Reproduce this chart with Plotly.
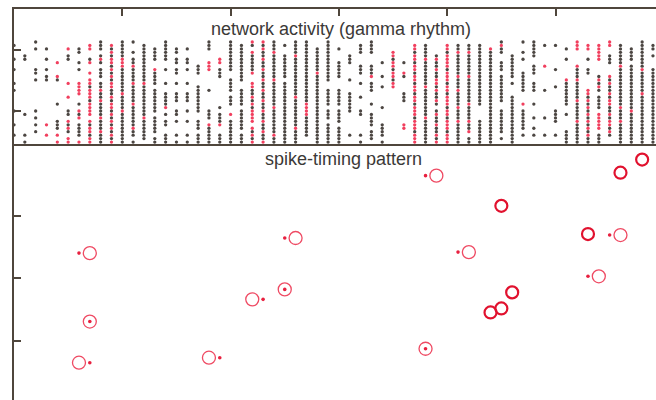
import plotly.graph_objects as go

# ---- raster of the network (one string per gamma cycle, rows top -> bottom) ----
# 'k' = spike of an ordinary neuron, 'r' = spike of a pattern neuron, '.' = silent
raster_cols = [
    ".k... k..k. ..k.k ..... k...k ..k..",
    "....k k.... ..... ..... .k... ..k.k",
    "k.k.. ...kk .k... ..... k.k.k .k...",
    "..k.. k..k. kk... ..... ....r ..r..",
    "..... .r... rk... ...k. ...kk k.r.r",
    "..r.k k.... ..r.. .r... kk.rk rk.rr",
    "..kk. .k.k. ..rrr r..k. rkr.k kkk.r",
    ".rr.. kr..r .rrkr rrkrr rr.rk rrkrr",
    "kkk.k rk.kk k.kkr kkrkk kkrkk krkkk",
    ".rkrk rrkrk rkrrk krkrr krkrk rkrkr",
    "kkkkk rrrkk kkkkk rkkkk rkkkk kkkkk",
    "k..k. kkrkk kkrkk kkkrk kkkkk rkk.k",
    ".kkkk kkkkk kkrkk kkkkk kkrkk kkkk.",
    "..kkk k..rk kkk.k kkkkk k.kkk kk.kk",
    "kkkkk k..k. ..k.. kkkkr .k.kk ..kkk",
    "..kk. kk.kk ..k.. kkk.. kk.k. ..k.k",
    "..k.. kk.k. ..k.. kkk.. k..k. ..k.k",
    "..... ..kkk ...kk kkkkk k..kk k.kkk",
    "kkk.. .rrr. ....k ..... kkk.r kkkkk",
    "..... rr.kk k.... ....k .kkkr ..kkk",
    "kkkkk kkkk. .kkkk .kkk. .r.kk kkkkk",
    ".kkkk kkkkk kk..k kkkk. kkkkk k.kkk",
    "rk.rk kkkkr ..rrk krkrk rrrr. rkrkr",
    "rkrkk rkkrk krkkr kkrkk rkkrk krkkr",
    "kkkrk kkkkk krkkk kkkkr kkkkk kkrkk",
    ".k..k kkkkk k.kkk kkkkk kkkkk kkkkk",
    "kkkkr kkkkk kkkkk krkkk kkkkk rkkkk",
    "kkkkk kkkkk kkkkk kkkrr rrkkk kkk..",
    "..kkk kkkkr kkkkk kkkkk kkkkk kkkkk",
    "kkkkk kkkkk kk..k kkkk. kkk.k kkkkk",
    "..k.. .kkkk k...k kkkk. kkkk. kkkkk",
    "....k kk... .k... kkkkk k.... ..k..",
    ".kkk. ..kkk ..k.. .k... kk... ..k.k",
    "kkkk. ..kkk r.kkk ...k. .kkkk .kkk.",
    "..... .k... k..k. ....k ....k kkk.k",
    "...rr krrkr rkrr. ..... ..... .....",
    "..... .k..r k.... kkk.. ....r r....",
    ".rrkr rkrrk rrkrr krrkr rrkrr rkrrr",
    ".kkkk rkkkk kkkrk kkkkk kkrkk kkkkk",
    "....k rkkrk krrkr kkrk. krkkr kkrkr",
    ".rrkr rrrkr rrkrr krrrk rrkrr rkrrr",
    ".kkrk kkkkk rkkkr kkkkr kkkrk kkkkk",
    ".kkrk kkkkk rkkkk kkkrk kkkrk kr.kk",
    ".kkkk kkkkk kkkkk kkkk. ...kk kkkkk",
    "..rkk kkkkk kkkkk kkkkk kkkkk kkkkk",
    "krkk. .kkk. kkkkk kkk.. kkkkk kk.k.",
    "....k kkkkk k.k.. .kkkk kkkkk kkkkk",
    "k..k. k...k kkkkk ...r. kkkkk k.k..",
    "kkkkk ..kkk ..kkk ...k. ..k.. k.k..",
    ".k... ..r.. ....k ..... ..k.. ..k..",
    ".k... ...k. ...k. ..... kkkk. ..k..",
    "..k.. k.... .rkkk kkkk. .k... .kkkk",
    "rrr.. ..rkk krkkk kkrkk kkkrk kkkkk",
    ".rr.. k..kk ....r rkrkr krkrk rkrkk",
    ".rrrr r.... krkrk .kkkk .rrrr r.kkk",
    "rr..k kk... rkrkk rkrrk krkrr krk..",
    ".kkkk kkrkk kkkkk kkkkr kkkrk kkkkk",
    "..kkk k.kkk kkkkk kkkkk rkkkk kkkkk",
    "kkkkk kkkrk kkkkk rkkkk kkkkk kkkkk",
    ".kk.k ...kk kkkkk kkkkk kkkkk kkkkk",
]

# ---- spike-timing pattern (x in gamma cycles, y = pattern neuron) ----
target_x = [7, 7, 6, 18, 22, 25, 26, 39, 42, 38, 56, 54]
target_y = [12.02, 6.53, 3.23, 3.63, 8.31, 9.11, 13.23, 18.23, 12.10, 4.35, 13.47, 10.16]
spike_x = [6, 7, 7, 19, 23, 25, 25, 38, 41, 38, 55, 53]
spike_y = [12.02, 6.53, 3.23, 3.63, 8.31, 9.11, 13.23, 18.23, 12.10, 4.35, 13.47, 10.16]
missed_x = [45, 46, 45, 44, 53, 56, 58]
missed_y = [15.81, 8.87, 7.58, 7.26, 13.55, 18.47, 19.52]

time_ticks = [0, 10, 20, 30, 40, 50]
raster_ticks = [2.3, 20.0]
pattern_ticks = [5, 10, 15]

AXIS = "#4f463c"
BLACK = "#38322e"
RED = "#ef2a4c"
TEXT = "#3b3937"

kx, ky, rx, ry = [], [], [], []
for i, col in enumerate(raster_cols):
    cells = col.replace(" ", "")
    for j, c in enumerate(cells):
        if c == "k":
            kx.append(i); ky.append(j)
        elif c == "r":
            rx.append(i); ry.append(j)

fig = go.Figure()
fig.add_trace(go.Scatter(x=kx, y=ky, mode="markers", xaxis="x", yaxis="y",
                         marker=dict(size=3.3, color=BLACK, opacity=0.9, line=dict(width=0)),
                         cliponaxis=False, hoverinfo="skip"))
fig.add_trace(go.Scatter(x=rx, y=ry, mode="markers", xaxis="x", yaxis="y",
                         marker=dict(size=3.3, color=RED, opacity=0.9, line=dict(width=0)),
                         cliponaxis=False, hoverinfo="skip"))

fig.add_trace(go.Scatter(x=target_x, y=target_y, mode="markers", xaxis="x2", yaxis="y2",
                         marker=dict(symbol="circle-open", size=13, color="#ef4a63",
                                     line=dict(width=1.3, color="#ef4a63")),
                         hoverinfo="skip"))
fig.add_trace(go.Scatter(x=missed_x, y=missed_y, mode="markers", xaxis="x2", yaxis="y2",
                         marker=dict(symbol="circle-open", size=12, color="#e1112e",
                                     line=dict(width=2.2, color="#e1112e")),
                         hoverinfo="skip"))
fig.add_trace(go.Scatter(x=spike_x, y=spike_y, mode="markers", xaxis="x2", yaxis="y2",
                         marker=dict(size=3.6, color="#e8203f"),
                         hoverinfo="skip"))

split = 0.656
common = dict(showgrid=False, zeroline=False, showticklabels=False)
fig.update_layout(
    width=656, height=400,
    margin=dict(l=14, r=0, t=9, b=0),
    paper_bgcolor="white", plot_bgcolor="white",
    showlegend=False,
    xaxis=dict(domain=[0, 1], range=[0, 59.28], anchor="y", side="top",
               showline=True, linecolor=AXIS, linewidth=2, mirror=True,
               ticks="inside", tickvals=time_ticks, ticklen=7, tickwidth=2,
               tickcolor=AXIS, **common),
    yaxis=dict(domain=[split, 1], range=[29.42, -9.57], anchor="x",
               showline=True, linecolor=AXIS, linewidth=2,
               ticks="inside", tickvals=raster_ticks, ticklen=7, tickwidth=2,
               tickcolor=AXIS, **common),
    xaxis2=dict(domain=[0, 1], range=[0, 59.28], anchor="y2", matches="x",
                showline=False, ticks="", **common),
    yaxis2=dict(domain=[0, split], range=[0.24, 20.81], anchor="x2",
                showline=True, linecolor=AXIS, linewidth=2,
                ticks="inside", tickvals=pattern_ticks, ticklen=7, tickwidth=2,
                tickcolor=AXIS, **common),
    font=dict(family="Liberation Sans, Arial, sans-serif", color=TEXT),
)

def px_to_paper(px_x, px_y):
    return (px_x - 14) / 642, (400 - px_y) / 391

ax, ay = px_to_paper(341, 29.5)
fig.add_annotation(text="network activity (gamma rhythm)", x=ax, y=ay,
                   xref="paper", yref="paper", xanchor="center", yanchor="middle",
                   showarrow=False, font=dict(size=18, color=TEXT))
ax, ay = px_to_paper(343, 159)
fig.add_annotation(text="spike-timing pattern", x=ax, y=ay,
                   xref="paper", yref="paper", xanchor="center", yanchor="middle",
                   showarrow=False, font=dict(size=18, color=TEXT))

fig.write_html("out.html")
